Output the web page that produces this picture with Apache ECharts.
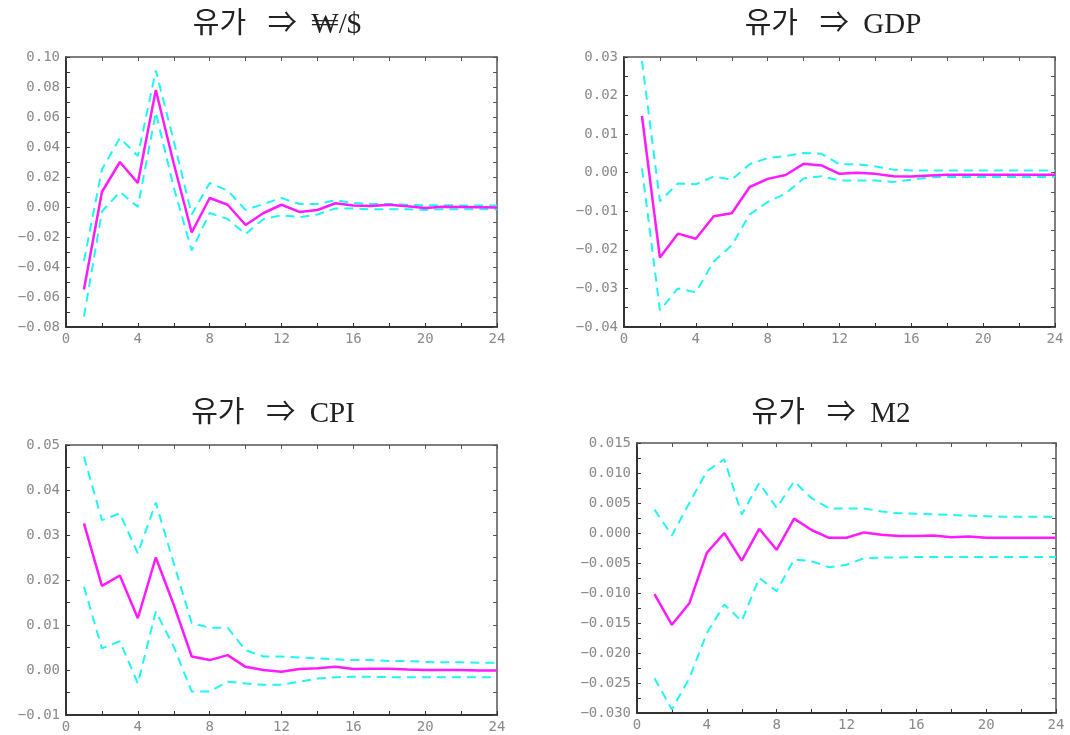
<!DOCTYPE html>
<html>
<head>
<meta charset="utf-8">
<script src="https://cdn.jsdelivr.net/npm/echarts@6/dist/echarts.min.js"></script>
<style>
html,body{margin:0;padding:0;background:#fff;}
#chart{width:1070px;height:735px;}
</style>
</head>
<body>
<div id="chart"></div>
<script>
// ---- data ----
var periods = [1,2,3,4,5,6,7,8,9,10,11,12,13,14,15,16,17,18,19,20,21,22,23,24];
var titles = ['유가   ⇒  ₩/$', '유가   ⇒  GDP', '유가   ⇒  CPI', '유가   ⇒  M2'];
var xTicks = [0, 4, 8, 12, 16, 20, 24];

var fxIrf   = [-0.055, 0.010, 0.030, 0.016, 0.078, 0.029, -0.017, 0.006, 0.0015, -0.012, -0.004, 0.0015, -0.0033, -0.002, 0.0025, 0.001, 0.0007, 0.0015, 0.0005, -0.0007, 0.0002, 0.0, -0.0002, -0.0004];
var fxUpper = [-0.036, 0.025, 0.046, 0.034, 0.091, 0.044, -0.005, 0.016, 0.011, -0.002, 0.002, 0.006, 0.002, 0.002, 0.0045, 0.0027, 0.002, 0.002, 0.0015, 0.0012, 0.0012, 0.001, 0.001, 0.001];
var fxLower = [-0.073, -0.003, 0.010, 0.000, 0.063, 0.013, -0.029, -0.004, -0.008, -0.018, -0.008, -0.0055, -0.0067, -0.005, -0.001, -0.001, -0.0015, -0.0015, -0.0015, -0.002, -0.0015, -0.0015, -0.0015, -0.0015];

var gdpIrf   = [0.0147, -0.022, -0.0158, -0.0171, -0.0113, -0.0105, -0.0037, -0.0016, -0.0006, 0.0023, 0.0019, -0.0003, 0.0, -0.0003, -0.0009, -0.001, -0.0007, -0.0005, -0.0005, -0.0005, -0.0005, -0.0005, -0.0005, -0.0005];
var gdpUpper = [0.029, -0.0074, -0.0028, -0.003, -0.001, -0.0018, 0.0022, 0.0038, 0.0043, 0.0051, 0.0049, 0.0022, 0.0022, 0.0016, 0.0008, 0.0006, 0.0006, 0.0006, 0.0006, 0.0006, 0.0006, 0.0006, 0.0006, 0.0006];
var gdpLower = [0.0011, -0.0357, -0.030, -0.031, -0.023, -0.0188, -0.0108, -0.0076, -0.0054, -0.0015, -0.0009, -0.002, -0.002, -0.002, -0.0024, -0.0018, -0.0012, -0.0011, -0.0011, -0.0011, -0.0011, -0.0011, -0.0011, -0.0011];

var cpiIrf   = [0.0326, 0.0187, 0.021, 0.0115, 0.025, 0.0145, 0.003, 0.0022, 0.0033, 0.0007, 0.0, -0.0004, 0.0002, 0.0004, 0.0007, 0.0002, 0.0003, 0.0003, 0.0001, 0.0, 0.0, 0.0, -0.0001, -0.0001];
var cpiUpper = [0.0474, 0.0333, 0.0348, 0.0259, 0.0372, 0.0237, 0.0104, 0.0094, 0.0094, 0.0044, 0.003, 0.003, 0.0028, 0.0026, 0.0024, 0.0022, 0.0022, 0.002, 0.002, 0.0018, 0.0017, 0.0017, 0.0016, 0.0016];
var cpiLower = [0.0185, 0.0048, 0.0064, -0.0030, 0.0130, 0.0052, -0.0048, -0.0048, -0.0026, -0.003, -0.0033, -0.0033, -0.0026, -0.0019, -0.0016, -0.0015, -0.0015, -0.0016, -0.0016, -0.0016, -0.0016, -0.0016, -0.0016, -0.0016];

var m2Irf   = [-0.0102, -0.0153, -0.0117, -0.0033, 0.0000, -0.0046, 0.0007, -0.0028, 0.0024, 0.0005, -0.0008, -0.0008, 0.0001, -0.0003, -0.0005, -0.0005, -0.0004, -0.0007, -0.0006, -0.0008, -0.0008, -0.0008, -0.0008, -0.0008];
var m2Upper = [0.0039, -0.0004, 0.005, 0.0103, 0.0123, 0.0031, 0.0083, 0.0042, 0.0086, 0.0058, 0.0041, 0.0041, 0.0041, 0.0036, 0.0033, 0.0032, 0.0031, 0.003, 0.0029, 0.0028, 0.0027, 0.0027, 0.0027, 0.0027];
var m2Lower = [-0.0242, -0.0294, -0.0242, -0.0167, -0.0119, -0.0147, -0.0075, -0.0097, -0.0044, -0.0047, -0.0057, -0.0053, -0.0042, -0.0041, -0.0041, -0.0040, -0.0040, -0.0040, -0.0040, -0.0040, -0.0040, -0.0040, -0.0040, -0.0040];

var yMins = [-0.08, -0.04, -0.01, -0.030];
var yMaxs = [0.10, 0.03, 0.05, 0.015];
var yIntervals = [0.02, 0.01, 0.01, 0.005];
var yDecimals = [2, 2, 2, 3];

// ---- layout ----
var grids = [
  {left: 66,  top: 57,  width: 431, height: 270},
  {left: 624, top: 57,  width: 431, height: 270},
  {left: 66,  top: 445, width: 431, height: 270},
  {left: 637, top: 443, width: 419, height: 270}
];
var titlePos = [[272, 6], [828, 6], [268, 395], [826, 395]];

var series3 = [
  [fxIrf, fxUpper, fxLower],
  [gdpIrf, gdpUpper, gdpLower],
  [cpiIrf, cpiUpper, cpiLower],
  [m2Irf, m2Upper, m2Lower]
];

function zip(xs, ys){ return xs.map(function(x,i){ return [x, ys[i]]; }); }

var labelFont = {color: '#8a8a8a', fontSize: 14, fontFamily: 'DejaVu Sans Mono'};

var option = {
  backgroundColor: '#fff',
  animation: false,
  title: [], grid: [], xAxis: [], yAxis: [], series: []
};

for (var p = 0; p < 4; p++) {
  option.title.push({
    text: titles[p], left: titlePos[p][0], top: titlePos[p][1], textAlign: 'center',
    textStyle: {fontSize: 29, fontWeight: 'normal', color: '#222', fontFamily: "'Liberation Serif', 'Noto Sans CJK KR', serif"}
  });
  option.grid.push(Object.assign({containLabel: false}, grids[p]));
  option.xAxis.push({
    type: 'value', gridIndex: p, position: 'bottom', min: 0, max: 24, interval: 4,
    axisLine: {show: true, onZero: false, lineStyle: {color: '#333', width: 2}},
    axisTick: {show: true, inside: true, length: 4, lineStyle: {color: '#333'}},
    minorTick: {show: true, splitNumber: 2, length: 4, lineStyle: {color: '#333'}},
    splitLine: {show: false},
    axisLabel: Object.assign({margin: 5, formatter: function(v){ return xTicks.indexOf(v) >= 0 ? String(v) : ''; }}, labelFont)
  });
  option.xAxis.push({
    type: 'value', gridIndex: p, position: 'top', min: 0, max: 24, interval: 4,
    axisLine: {show: true, onZero: false, lineStyle: {color: '#555', width: 1.5}},
    axisTick: {show: true, inside: true, length: 4, lineStyle: {color: '#555'}},
    minorTick: {show: true, splitNumber: 2, length: 4, lineStyle: {color: '#555'}},
    splitLine: {show: false}, axisLabel: {show: false}
  });
  (function(dec){
    option.yAxis.push({
      type: 'value', gridIndex: p, position: 'left', min: yMins[p], max: yMaxs[p], interval: yIntervals[p],
      axisLine: {show: true, onZero: false, lineStyle: {color: '#333', width: 2}},
      axisTick: {show: true, inside: true, length: 4, lineStyle: {color: '#333'}},
      minorTick: {show: true, splitNumber: 2, length: 4, lineStyle: {color: '#333'}},
      splitLine: {show: false},
      axisLabel: Object.assign({margin: 6, formatter: function(v){
        if (Math.abs(v) < 1e-9) return (0).toFixed(dec);
        return (v < 0 ? '\u2212' : '') + Math.abs(v).toFixed(dec);
      }}, labelFont)
    });
  })(yDecimals[p]);
  option.yAxis.push({
    type: 'value', gridIndex: p, position: 'right', min: yMins[p], max: yMaxs[p], interval: yIntervals[p],
    axisLine: {show: true, onZero: false, lineStyle: {color: '#555', width: 1.5}},
    axisTick: {show: true, inside: true, length: 4, lineStyle: {color: '#555'}},
    minorTick: {show: true, splitNumber: 2, length: 4, lineStyle: {color: '#555'}},
    splitLine: {show: false}, axisLabel: {show: false}
  });
  var s = series3[p];
  [1, 2].forEach(function(k){
    option.series.push({
      type: 'line', xAxisIndex: 2*p, yAxisIndex: 2*p, data: zip(periods, s[k]),
      symbol: 'none', lineStyle: {color: '#22f4f4', width: 2, type: [9, 6]}, silent: true
    });
  });
  option.series.push({
    type: 'line', xAxisIndex: 2*p, yAxisIndex: 2*p, data: zip(periods, s[0]),
    symbol: 'none', lineStyle: {color: '#ff1aff', width: 2.5}, silent: true, z: 3
  });
}

var chart = echarts.init(document.getElementById('chart'), null, {renderer: 'canvas'});
chart.setOption(option);
</script>
</body>
</html>
